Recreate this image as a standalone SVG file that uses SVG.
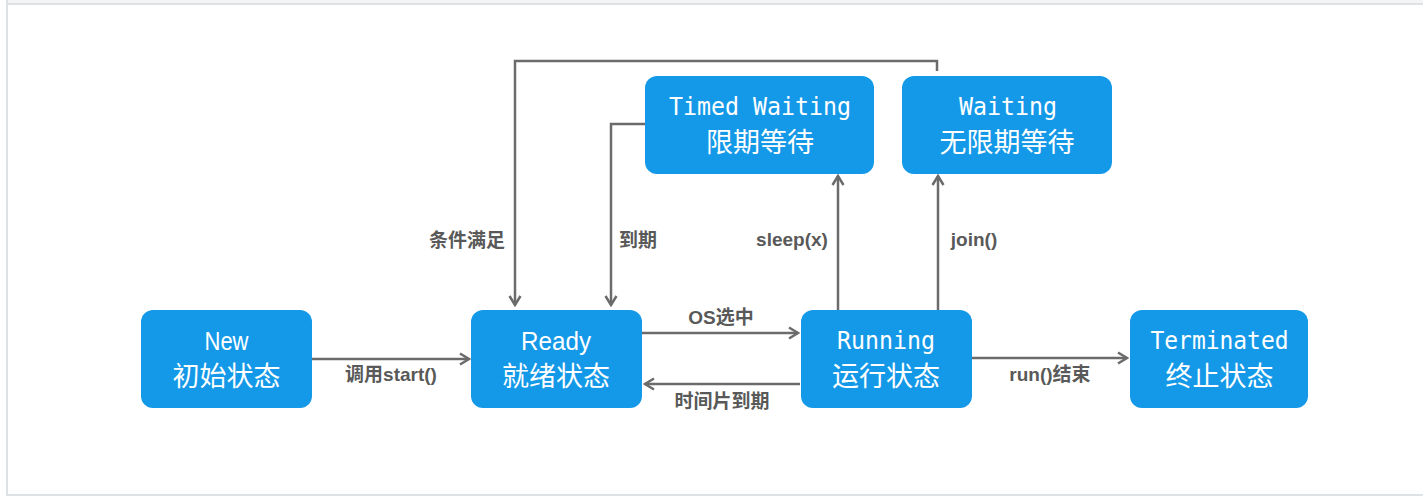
<svg xmlns="http://www.w3.org/2000/svg" width="1423" height="500" viewBox="0 0 1423 500">
<style>
.box{fill:#1499e8;}
.en{font-family:"Liberation Sans","Noto Sans",sans-serif;font-size:25px;fill:#ffffff;text-anchor:middle;}
.mono{font-family:"DejaVu Sans Mono","Liberation Mono",monospace;font-size:24px;fill:#ffffff;text-anchor:middle;}
.zh{font-family:"Noto Sans CJK SC","Noto Sans",sans-serif;font-size:27px;fill:#ffffff;text-anchor:middle;}
.lbl{font-family:"Liberation Sans","Noto Sans CJK SC",sans-serif;font-size:19px;font-weight:bold;fill:#595959;text-anchor:middle;}
.edge{fill:none;stroke:#6b6b6b;stroke-width:2.5;marker-end:url(#arr);}
.frame{stroke:#dfe2e5;stroke-width:2;fill:none;}
</style>
<defs>
<marker id="arr" markerUnits="userSpaceOnUse" markerWidth="14" markerHeight="14" viewBox="0 0 14 14" refX="12" refY="7" orient="auto">
<path d="M3,1.5 L12,7 L3,12.5" fill="none" stroke="#6b6b6b" stroke-width="2.5"/>
</marker>
</defs>
<rect x="0" y="0" width="1423" height="500" fill="#ffffff"/>
<rect x="7" y="0" width="1416" height="3" fill="#f3f4f5"/>
<g id="frame">
<line class="frame" x1="6" y1="4" x2="1423" y2="4"/>
<line class="frame" x1="7" y1="0" x2="7" y2="496"/>
<line class="frame" x1="6" y1="495" x2="1423" y2="495"/>
</g>
<g id="connectors">
<path class="edge" d="M312,359 H469"/>
<path class="edge" d="M642,333 H798"/>
<path class="edge" d="M800,384 H645"/>
<path class="edge" d="M972,358 H1127"/>
<path class="edge" d="M838,310 V176"/>
<path class="edge" d="M938,310 V176"/>
<path class="edge" d="M937,71 V61 H515 V305"/>
<path class="edge" d="M645,124 H611 V305"/>
<text class="lbl" x="391" y="381">调用start()</text>
<text class="lbl" x="721" y="324">OS选中</text>
<text class="lbl" x="722" y="408">时间片到期</text>
<text class="lbl" x="1050" y="381">run()结束</text>
<text class="lbl" x="467" y="247">条件满足</text>
<text class="lbl" x="638" y="247">到期</text>
<text class="lbl" x="792" y="246">sleep(x)</text>
<text class="lbl" x="974" y="246">join()</text>
</g>
<g id="node-new">
<rect class="box" x="141" y="310" width="171" height="98" rx="12"/>
<text class="en" x="226.5" y="350" textLength="44" lengthAdjust="spacingAndGlyphs">New</text>
<text class="zh" x="226.5" y="386">初始状态</text>
</g>
<g id="node-ready">
<rect class="box" x="471" y="310" width="171" height="98" rx="12"/>
<text class="en" x="556" y="350" textLength="70" lengthAdjust="spacingAndGlyphs">Ready</text>
<text class="zh" x="556" y="386">就绪状态</text>
</g>
<g id="node-running">
<rect class="box" x="801" y="310" width="171" height="98" rx="12"/>
<text class="mono" x="886" y="349" textLength="98" lengthAdjust="spacingAndGlyphs">Running</text>
<text class="zh" x="886" y="386">运行状态</text>
</g>
<g id="node-terminated">
<rect class="box" x="1130" y="310" width="178" height="98" rx="12"/>
<text class="mono" x="1219.5" y="349" textLength="138" lengthAdjust="spacingAndGlyphs">Terminated</text>
<text class="zh" x="1219.5" y="386">终止状态</text>
</g>
<g id="node-timed-waiting">
<rect class="box" x="645" y="76" width="229" height="98" rx="12"/>
<text class="mono" x="760" y="115" textLength="182" lengthAdjust="spacingAndGlyphs">Timed Waiting</text>
<text class="zh" x="760" y="152">限期等待</text>
</g>
<g id="node-waiting">
<rect class="box" x="902" y="76" width="210" height="98" rx="12"/>
<text class="mono" x="1008" y="115" textLength="98" lengthAdjust="spacingAndGlyphs">Waiting</text>
<text class="zh" x="1007" y="152">无限期等待</text>
</g>
</svg>
